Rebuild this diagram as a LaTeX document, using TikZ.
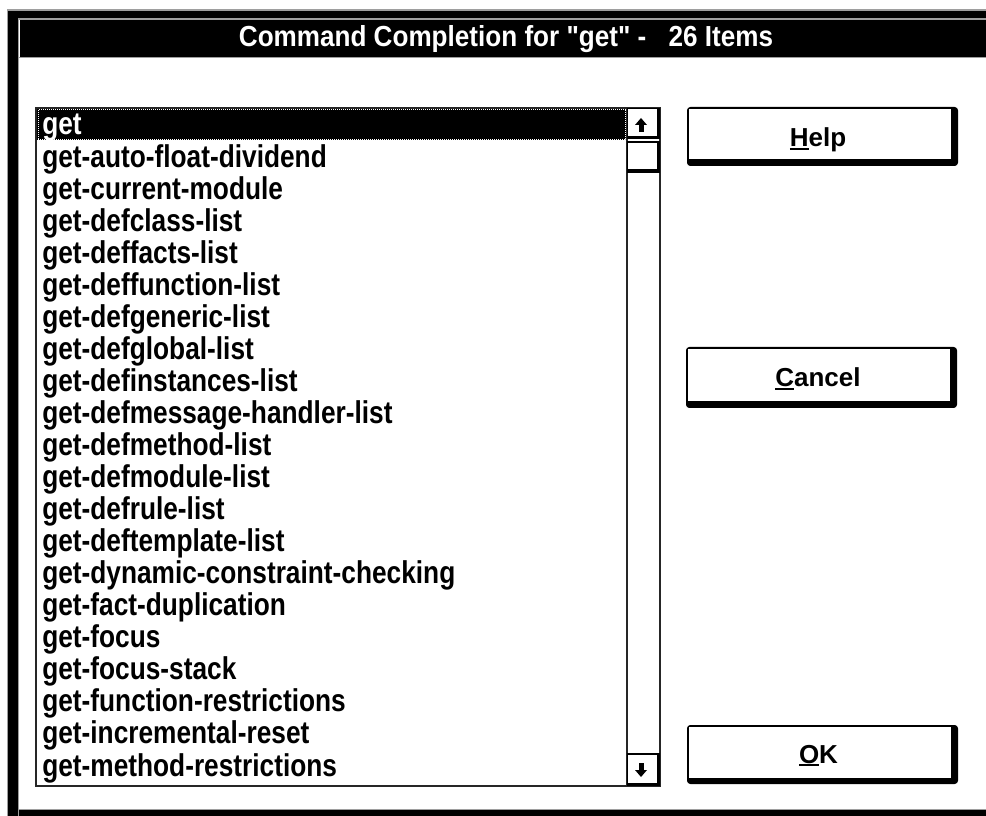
\documentclass[tikz,border=0pt]{standalone}
\usepackage{fontspec}
\setmainfont{Liberation Sans}[Ligatures=TeXOff]
\newcommand\accel[1]{\setbox0\hbox{#1}\rlap{\rule[-2.5pt]{\wd0}{1.6pt}}\box0}
\begin{document}
\begin{tikzpicture}[x=0.75pt,y=-0.75pt,
  itemtext/.style={anchor=base west, inner sep=0pt, font=\fontsize{19.7}{20}\bfseries\selectfont},
  btntext/.style={anchor=base, inner sep=0pt, font=\fontsize{19.5}{20}\bfseries\selectfont},
  titletext/.style={anchor=base, inner sep=0pt, text=white, font=\fontsize{21.75}{22}\bfseries\selectfont},
  framegray/.style={draw=black!38, line width=1.1pt},
  btnshadow/.style={fill=black, rounded corners=2.5pt},
  btnface/.style={fill=white},
  sbshadow/.style={fill=black},
  sbface/.style={fill=white},
  arrowglyph/.style={fill=black},
  ]
\useasboundingbox (0,0) rectangle (986,816);
\fill[white] (0,0) rectangle (986,816);
% window frame
\fill[black] (8,10) rectangle (1000,830);
\draw[framegray] (7.5,830) -- (7.5,10) -- (1000,10);
\fill[white] (18.5,19.5) rectangle (1000,810);
\draw[framegray] (18.5,830) -- (18.5,19) -- (1000,19);
\draw[framegray] (18.5,809.5) -- (1000,809.5);
% title bar
\fill[black] (19.5,20) rectangle (1000,57);
\draw[framegray] (19,57.5) -- (1000,57.5);
\node[titletext] (title) at (506,47) {\scalebox{0.9}[1]{Command Completion for "get" -\hspace{0.85em}26 Items}};
% list box
\draw[line width=1.1pt, black!85] (36,108) rectangle (660,786);
\fill[black] (37,109) rectangle (625.5,140.5);
\draw[white, line width=0.75pt, dash pattern=on 0.75pt off 0.75pt] (38,110) rectangle (625,139.8);
\node[itemtext, text=white] (item0) at (42,135) {\scalebox{1}[1.2]{get}};
\foreach \t [count=\i] in {get-auto-float-dividend, get-current-module, get-defclass-list, get-deffacts-list, get-deffunction-list, get-defgeneric-list, get-defglobal-list, get-definstances-list, get-defmessage-handler-list, get-defmethod-list, get-defmodule-list, get-defrule-list, get-deftemplate-list, get-dynamic-constraint-checking, get-fact-duplication, get-focus, get-focus-stack, get-function-restrictions, get-incremental-reset, get-method-restrictions}
  \node[itemtext] (item\i) at (42,{135+32.05*\i}) {\scalebox{1}[1.2]{\t}};
% scroll bar
\draw[line width=1.1pt, black!85] (627,108) -- (627,786);
\fill[sbshadow] (627,108) rectangle (660,139.5);
\fill[sbface] (628,109) rectangle (656.5,136.5);
\fill[arrowglyph] (635,125) -- (641,118) -- (647,125) -- cycle;
\fill[arrowglyph] (638.5,124.5) rectangle (643.5,132);
\fill[sbshadow] (627,141.5) rectangle (660,173);
\fill[sbface] (628,143) rectangle (656.5,169.5);
\fill[sbshadow] (627,753) rectangle (660,786);
\fill[sbface] (628,754.5) rectangle (656.5,782.5);
\fill[arrowglyph] (638.5,762.5) rectangle (643.5,770.5);
\fill[arrowglyph] (635,770) -- (641,777) -- (647,770) -- cycle;
% buttons
\fill[btnshadow] (687,107) rectangle (958,166);
\fill[btnface] (689,109) rectangle (951,159.5);
\node[btntext] (help) at (818,147) {\accel{H}elp};
\fill[btnshadow] (686,347) rectangle (957,408);
\fill[btnface] (688,349) rectangle (950,401.5);
\node[btntext] (cancel) at (818,387) {\accel{C}ancel};
\fill[btnshadow] (687,725) rectangle (958,784);
\fill[btnface] (689,727) rectangle (951,777.5);
\node[btntext] (ok) at (818.5,763) {\accel{O}K};
\end{tikzpicture}
\end{document}
